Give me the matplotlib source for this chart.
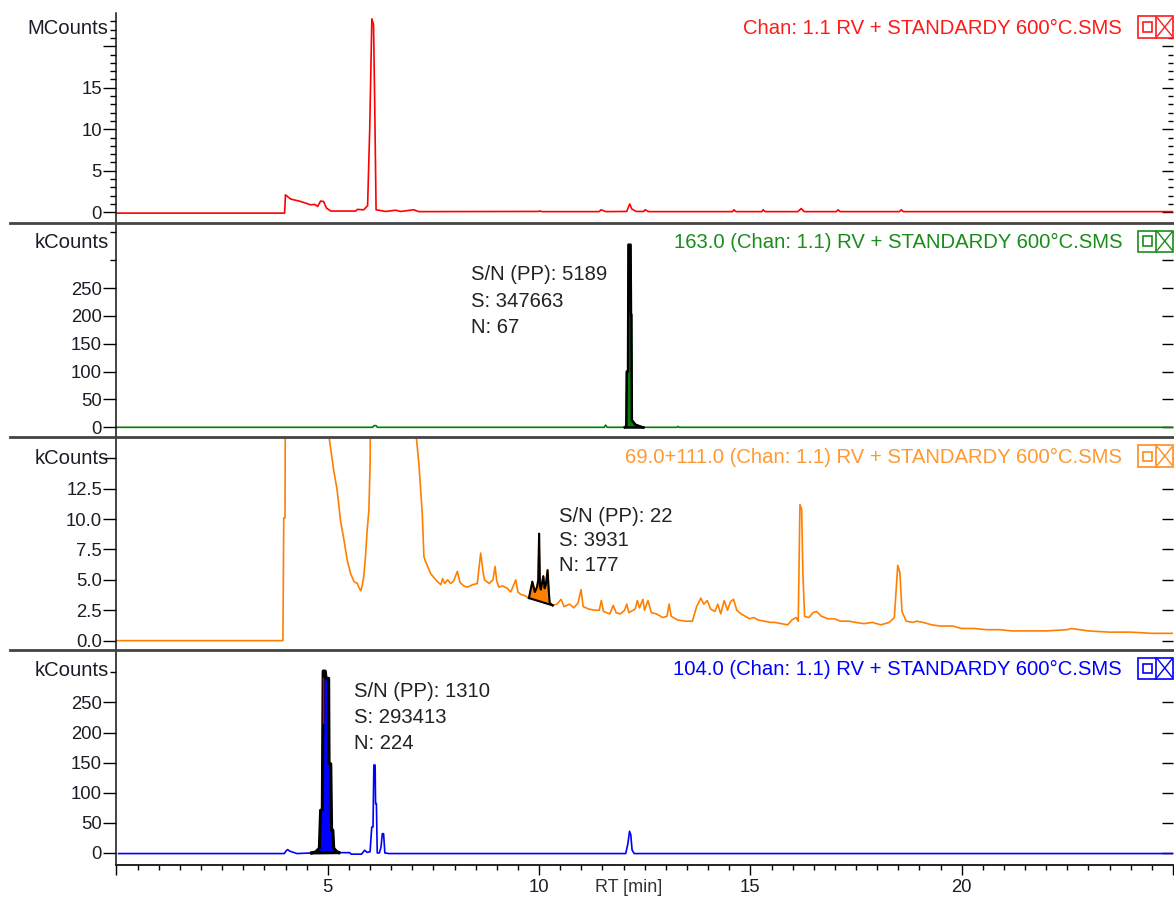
import numpy as np
import matplotlib
matplotlib.use("Agg")
import matplotlib.pyplot as plt
from matplotlib.lines import Line2D
from matplotlib.patches import Rectangle
from matplotlib.ticker import FixedLocator

plt.rcParams['font.family'] = ['Liberation Sans', 'DejaVu Sans']

# ---------------- data ----------------
# Panel 1: total ion chromatogram, MCounts
red_pts = [(0.05, -0.1), (4.02, -0.1), (4.04, 2.1), (4.16, 1.6), (4.40, 1.3), (4.52, 1.1),
           (4.63, 0.9), (4.73, 0.95), (4.80, 0.7), (4.87, 1.35), (4.94, 1.3), (5.01, 0.5),
           (5.11, 0.15), (5.70, 0.15), (5.74, 0.35), (5.89, 0.3), (5.98, 0.8), (6.03, 10.0),
           (6.08, 23.3), (6.12, 22.6), (6.15, 12.3), (6.18, 0.3), (6.41, 0.1), (6.64, 0.25),
           (6.76, 0.1), (7.07, 0.3), (7.19, 0.08), (10.0, 0.1), (10.05, 0.15), (10.1, 0.08),
           (11.45, 0.08), (11.49, 0.3), (11.61, 0.08), (12.10, 0.1), (12.13, 0.5), (12.17, 1.0),
           (12.22, 0.4), (12.32, 0.1), (12.50, 0.1), (12.53, 0.3), (12.62, 0.08),
           (14.60, 0.08), (14.63, 0.3), (14.68, 0.08), (15.29, 0.08), (15.32, 0.3), (15.37, 0.08),
           (16.14, 0.08), (16.22, 0.45), (16.29, 0.08), (17.05, 0.08), (17.09, 0.3), (17.14, 0.08),
           (18.54, 0.08), (18.58, 0.3), (18.63, 0.08), (25.0, 0.08)]

# Panel 2: m/z 163, kCounts
green_pts = [(0.05, 0.0), (6.10, 0.0), (6.13, 3.0), (6.18, 3.0), (6.21, 0.0), (11.57, 0.0),
             (11.60, 4.0), (11.64, 0.0), (12.05, 0.0), (12.09, 2.0), (12.10, 100.0), (12.13, 100.0),
             (12.14, 328.0), (12.19, 328.0), (12.20, 202.0), (12.21, 202.0), (12.22, 13.0),
             (12.30, 5.0), (12.40, 2.0), (12.48, 0.0), (13.28, 0.0), (13.31, 1.5), (13.34, 0.0),
             (25.0, 0.0)]
green_peak = (12.05, 12.48)

# Panel 3: m/z 69+111, kCounts
orange_pts = [(0.05, 0.0), (3.98, 0.0), (4.00, 10.1), (4.03, 10.1), (4.05, 40.0), (5.00, 40.0),
              (5.07, 16.75), (5.18, 14.0), (5.26, 12.4), (5.34, 9.9), (5.42, 8.3), (5.50, 6.6),
              (5.58, 5.5), (5.66, 4.85), (5.74, 4.7), (5.77, 4.4), (5.82, 4.1), (5.85, 4.5),
              (5.89, 5.3), (5.93, 6.9), (5.97, 9.1), (6.01, 10.7), (6.04, 14.6), (6.08, 40.0),
              (7.08, 40.0), (7.13, 16.75), (7.19, 14.6), (7.27, 10.5), (7.31, 6.9), (7.35, 6.5),
              (7.47, 5.5), (7.63, 4.85), (7.71, 4.6), (7.75, 5.1), (7.80, 4.7), (7.87, 5.0),
              (7.94, 4.7), (8.01, 4.9), (8.10, 5.7), (8.16, 4.8), (8.25, 4.5), (8.34, 4.4),
              (8.46, 4.6), (8.57, 4.7), (8.65, 7.2), (8.70, 5.8), (8.74, 5.0), (8.85, 4.7),
              (8.94, 5.0), (8.99, 6.1), (9.03, 4.9), (9.08, 4.4), (9.17, 4.5), (9.28, 4.3),
              (9.36, 4.0), (9.48, 5.0), (9.53, 4.0), (9.60, 3.8), (9.69, 3.7), (9.79, 3.5),
              (9.87, 4.85), (9.93, 4.0), (9.98, 4.4), (10.01, 5.0), (10.03, 8.8), (10.05, 4.5),
              (10.07, 4.2), (10.13, 5.3), (10.16, 4.3), (10.19, 4.6), (10.23, 5.8), (10.26, 4.0),
              (10.28, 3.1), (10.35, 2.9), (10.45, 3.0), (10.55, 3.4), (10.62, 2.8), (10.75, 3.0),
              (10.85, 2.7), (10.95, 3.1), (11.02, 4.2), (11.07, 2.8), (11.20, 2.6), (11.35, 2.5),
              (11.45, 2.5), (11.50, 3.3), (11.55, 2.4), (11.70, 2.2), (11.78, 2.9), (11.85, 2.3),
              (11.95, 2.2), (12.05, 2.5), (12.10, 3.0), (12.15, 2.3), (12.30, 2.6), (12.35, 3.3),
              (12.40, 2.7), (12.48, 3.4), (12.52, 2.5), (12.60, 3.3), (12.68, 2.3), (12.80, 2.2),
              (12.95, 1.9), (13.05, 2.0), (13.10, 3.0), (13.15, 2.0), (13.30, 1.7), (13.50, 1.6),
              (13.65, 1.6), (13.75, 2.8), (13.85, 3.5), (13.92, 3.0), (14.00, 3.3), (14.08, 2.6),
              (14.18, 2.4), (14.25, 3.0), (14.32, 2.2), (14.40, 3.3), (14.48, 2.5), (14.55, 3.2),
              (14.62, 3.4), (14.70, 2.5), (14.80, 2.2), (14.90, 2.0), (15.00, 1.8), (15.10, 1.9),
              (15.20, 1.7), (15.35, 1.6), (15.50, 1.5), (15.60, 1.5), (15.75, 1.4), (15.90, 1.3),
              (16.00, 1.7), (16.10, 1.9), (16.15, 1.6), (16.19, 11.2), (16.23, 10.8), (16.26, 5.5),
              (16.30, 2.0), (16.40, 1.9), (16.50, 2.3), (16.58, 2.4), (16.70, 2.0), (16.85, 1.8),
              (17.00, 1.8), (17.15, 1.6), (17.35, 1.6), (17.50, 1.5), (17.70, 1.4), (17.90, 1.5),
              (18.10, 1.3), (18.30, 1.5), (18.42, 1.9), (18.50, 6.2), (18.55, 5.6), (18.60, 2.4),
              (18.70, 1.6), (18.85, 1.5), (18.95, 1.6), (19.10, 1.5), (19.30, 1.3), (19.50, 1.2),
              (19.80, 1.2), (20.00, 1.0), (20.30, 1.0), (20.60, 0.9), (20.90, 0.9), (21.20, 0.8),
              (21.50, 0.8), (22.00, 0.8), (22.50, 0.9), (22.60, 1.0), (23.00, 0.8), (23.50, 0.7),
              (24.00, 0.7), (24.50, 0.6), (25.00, 0.6)]
orange_peak = (9.79, 10.35)

# Panel 4: m/z 104, kCounts
blue_pts = [(0.05, -1.0), (3.97, -1.0), (4.02, 4.0), (4.05, 5.6), (4.10, 3.0), (4.20, 0.7),
            (4.27, -1.0), (4.62, 0.0), (4.72, 2.0), (4.80, 8.0), (4.83, 71.0), (4.87, 71.0),
            (4.89, 302.0), (4.94, 302.0), (4.96, 290.0), (5.02, 290.0), (5.03, 148.0),
            (5.07, 148.0), (5.09, 38.0), (5.12, 38.0), (5.14, 8.0), (5.20, 3.0), (5.26, 0.5),
            (5.52, 0.5), (5.55, -2.0), (5.80, -2.0), (5.87, 4.5), (5.93, 1.0), (6.00, 2.0),
            (6.04, 43.0), (6.07, 43.0), (6.09, 146.0), (6.12, 146.0), (6.13, 82.0), (6.15, 82.0),
            (6.17, 0.0), (6.22, 0.0), (6.26, 10.0), (6.29, 32.0), (6.32, 32.0), (6.35, 0.0),
            (6.45, -1.0), (12.05, -1.0), (12.10, 15.0), (12.14, 36.0), (12.17, 30.0),
            (12.20, 5.0), (12.25, -1.0), (25.0, -1.0)]
blue_peak = (4.62, 5.26)
blue_mark = [(4.875, 215.0), (4.875, 290.0)]

titles = ["Chan: 1.1 RV + STANDARDY 600°C.SMS",
          "163.0 (Chan: 1.1) RV + STANDARDY 600°C.SMS",
          "69.0+111.0 (Chan: 1.1) RV + STANDARDY 600°C.SMS",
          "104.0 (Chan: 1.1) RV + STANDARDY 600°C.SMS"]
units = ["MCounts", "kCounts", "kCounts", "kCounts"]
sn_green = ["S/N (PP): 5189", "S: 347663", "N: 67"]
sn_orange = ["S/N (PP): 22", "S: 3931", "N: 177"]
sn_blue = ["S/N (PP): 1310", "S: 293413", "N: 224"]

ylims = [(-1.29, 24.0), (-17.4, 367.0), (-0.77, 16.75), (-20.0, 337.0)]
y_major = [[0, 5, 10, 15, 20], [0, 50, 100, 150, 200, 250], [0, 2.5, 5, 7.5, 10, 12.5, 15],
           [0, 50, 100, 150, 200, 250]]
y_major_lbl = [["0", "5", "10", "15", ""], ["0", "50", "100", "150", "200", "250"],
               ["0.0", "2.5", "5.0", "7.5", "10.0", "12.5", ""],
               ["0", "50", "100", "150", "200", "250"]]
y_minor = [[v for v in range(1, 24) if v % 5 != 0], [300, 350], [], [300]]
x_major = [0, 5, 10, 15, 20, 25]
x_major_lbl = ["", "5", "10", "15", "20", ""]
x_minor = [v / 2 for v in range(1, 50) if v % 10 != 0]

# ---------------- layout ----------------
W, H, DPI = 1174, 901, 100
fig = plt.figure(figsize=(W / DPI, H / DPI), dpi=DPI)


def fx(px):
    return px / W


def fy(py):
    return 1 - py / H


left_px, right_px = 116.5, 1173.0
bounds = [13, 223, 437, 650, 865]
txt_col = "#1c1c28"
tick_fs = 13.3
txt_fs = 14.6

trace_cols = ["#ff0000", "#008000", "#ff8000", "#0000ff"]
title_cols = ["#ff1a1a", "#1a8c1a", "#ff9933", "#0000ff"]

axes = []
for i in range(4):
    ax = fig.add_axes([fx(left_px), fy(bounds[i + 1]), fx(right_px) - fx(left_px),
                       fy(bounds[i]) - fy(bounds[i + 1])])
    ax.set_xlim(0.05, 25.0)
    ax.set_ylim(*ylims[i])
    for s in ["top", "right"]:
        ax.spines[s].set_visible(False)
    ax.spines["left"].set_linewidth(1.1)
    ax.spines["left"].set_color("#111111")
    if i < 3:
        ax.spines["bottom"].set_visible(False)
        ax.tick_params(axis="x", which="both", bottom=False, labelbottom=False)
    else:
        ax.spines["bottom"].set_linewidth(1.4)
        ax.spines["bottom"].set_color("#222222")
        ax.set_xticks(x_major)
        ax.set_xticklabels(x_major_lbl)
        ax.xaxis.set_minor_locator(FixedLocator(x_minor))
        ax.tick_params(axis="x", which="major", direction="out", length=7.2, width=1.0,
                       labelsize=tick_fs, labelcolor=txt_col, pad=3)
        ax.tick_params(axis="x", which="minor", direction="out", length=3.6, width=1.0)
    ax.set_yticks(y_major[i])
    ax.set_yticklabels(y_major_lbl[i])
    ax.yaxis.set_minor_locator(FixedLocator(y_minor[i]))
    ax.tick_params(axis="y", which="major", direction="out", length=9.4, width=1.0,
                   labelsize=tick_fs, labelcolor=txt_col, pad=1)
    ax.tick_params(axis="y", which="minor", direction="out", length=4.3, width=1.0)
    # right-hand ticks pointing inwards
    sec = ax.secondary_yaxis("right")
    sec.spines["right"].set_visible(False)
    sec.set_yticks(y_major[i] + ([300, 350] if i == 1 else []) + ([300] if i == 3 else []))
    sec.yaxis.set_minor_locator(FixedLocator(y_minor[i] if i == 0 else []))
    sec.tick_params(axis="y", which="major", direction="in", length=7.9, width=1.0,
                    labelright=False)
    sec.tick_params(axis="y", which="minor", direction="in", length=3.6, width=1.0)
    axes.append(ax)


def arr(pts):
    a = np.array(pts, dtype=float)
    return a[:, 0], a[:, 1]


def draw_peak(ax, t, v, rng, fill_col, lw=1.8):
    m = (t >= rng[0]) & (t <= rng[1])
    ts, vs = t[m], v[m]
    base = np.interp(ts, [ts[0], ts[-1]], [vs[0], vs[-1]])
    ax.fill_between(ts, base, vs, color=fill_col, lw=0, zorder=3)
    ax.plot(ts, vs, color="black", lw=lw, zorder=4)
    ax.plot([ts[0], ts[-1]], [vs[0], vs[-1]], color="black", lw=lw, zorder=4)


# Panel 1
t, v = arr(red_pts)
axes[0].plot(t, v, color=trace_cols[0], lw=1.2)

# Panel 2
t, v = arr(green_pts)
axes[1].plot(t, v, color=trace_cols[1], lw=1.2, zorder=2)
draw_peak(axes[1], t, v, green_peak, trace_cols[1])

# Panel 3
t, v = arr(orange_pts)
axes[2].plot(t, v, color=trace_cols[2], lw=1.2, zorder=2)
draw_peak(axes[2], t, v, orange_peak, trace_cols[2], lw=1.5)

# Panel 4
t, v = arr(blue_pts)
axes[3].plot(t, v, color=trace_cols[3], lw=1.2, zorder=2)
draw_peak(axes[3], t, v, blue_peak, trace_cols[3], lw=2.2)
mt, mv = arr(blue_mark)
axes[3].plot(mt, mv, color="#cc0000", lw=1.0, zorder=5)

# S/N annotations
for ax, lines, x0, ys in [(axes[1], sn_green, 8.42, [274, 225.4, 178.6]),
                          (axes[2], sn_orange, 10.50, [10.25, 8.2, 6.14]),
                          (axes[3], sn_blue, 5.63, [268.6, 225.4, 182.2])]:
    for s, yy in zip(lines, ys):
        ax.text(x0, yy, s, fontsize=txt_fs, color="#222222", ha="left", va="center", zorder=6)

# unit labels
unit_y = [29, 242.7, 458.3, 670.7]
for u, yy in zip(units, unit_y):
    fig.text(fx(108.5), fy(yy), u, fontsize=txt_fs, color=txt_col, ha="right", va="center")

# titles and window boxes
title_y = [28, 242, 457, 669]
for i in range(4):
    fig.text(fx(1122), fy(title_y[i]), titles[i], fontsize=txt_fs, color=title_cols[i],
             ha="right", va="center")
    c = title_cols[i] if i != 2 else "#ff8c1a"
    yc = title_y[i] - 1
    top, bot = yc - 10.5, yc + 10.5
    fig.add_artist(Rectangle((fx(1138), fy(bot)), fx(1173) - fx(1138), fy(top) - fy(bot),
                             transform=fig.transFigure, facecolor="white", edgecolor=c, lw=1.2,
                             zorder=10))
    fig.add_artist(Line2D([fx(1156), fx(1156)], [fy(top), fy(bot)], transform=fig.transFigure,
                          color=c, lw=1.2, zorder=11))
    fig.add_artist(Rectangle((fx(1143), fy(yc + 4.5)), fx(1152) - fx(1143), fy(yc - 4.5) - fy(yc + 4.5),
                             transform=fig.transFigure, facecolor="none", edgecolor=c, lw=1.2,
                             zorder=11))
    fig.add_artist(Line2D([fx(1157.5), fx(1172)], [fy(top + 1.5), fy(bot - 1.5)],
                          transform=fig.transFigure, color=c, lw=1.0, zorder=11))
    fig.add_artist(Line2D([fx(1157.5), fx(1172)], [fy(bot - 1.5), fy(top + 1.5)],
                          transform=fig.transFigure, color=c, lw=1.0, zorder=11))

# separators between panels
for yy in bounds[1:4]:
    fig.add_artist(Line2D([fx(10), fx(1174)], [fy(yy), fy(yy)], transform=fig.transFigure,
                          color="#444444", lw=2.0, zorder=9))

# x-axis label
fig.text(fx(629), fy(887), "RT [min]", fontsize=13.0, color="#333333", ha="center", va="center")

fig.savefig("out.png", dpi=DPI)
